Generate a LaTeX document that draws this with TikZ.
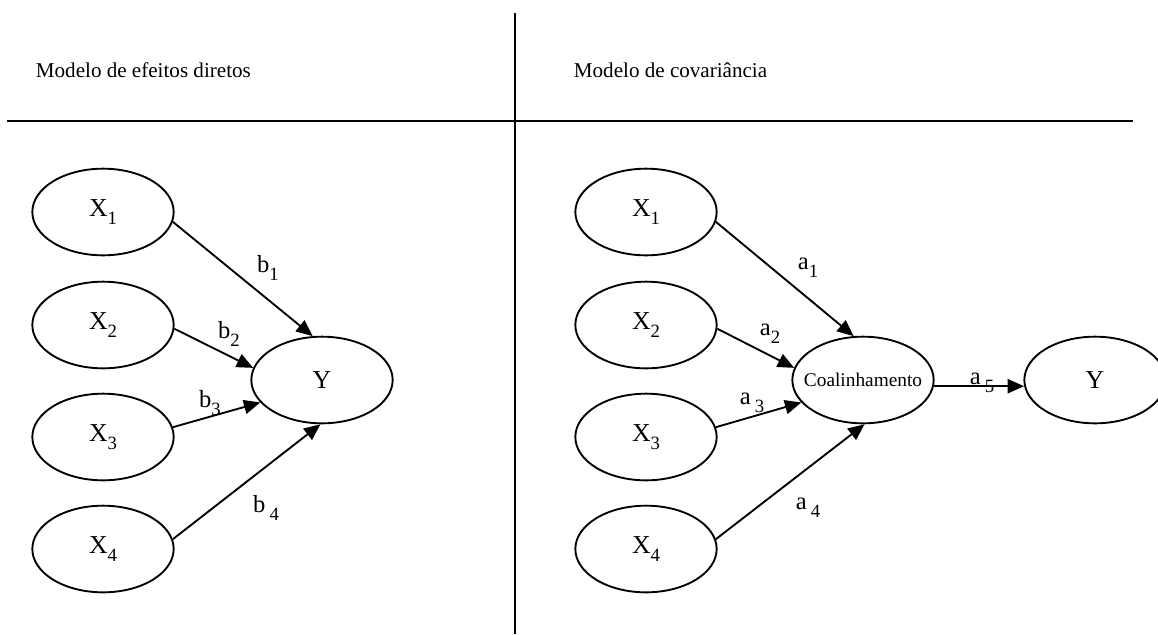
\documentclass[tikz,border=0pt]{standalone}
\usepackage{fontspec}
\setmainfont{Liberation Serif}
\usepackage{tikz}
\usetikzlibrary{shapes.geometric,arrows.meta}

\newcommand{\lowsub}[1]{\raisebox{-7pt}{\fontsize{16}{19}\selectfont #1}}

\begin{document}
\begin{tikzpicture}[x=0.03cm, y=-0.03cm, line width=1.6pt,
  var/.style={draw, ellipse, minimum width=4.24cm, minimum height=2.6cm,
    inner sep=0pt, font=\fontsize{22}{26}\selectfont},
  coef/.style={inner sep=0pt, font=\fontsize{21}{25}\selectfont},
  title/.style={anchor=west, inner sep=0pt, font=\fontsize{18}{22}\selectfont},
  arr/.style={-{Triangle[length=14pt,width=12pt]}}]
  \useasboundingbox (0,0) rectangle (1158,634);

  % frame
  \coordinate (top) at (515,13);
  \coordinate (bottom) at (515,634);
  \coordinate (left) at (7,121);
  \coordinate (right) at (1133,121);
  \draw (top) -- (bottom);
  \draw (left) -- (right);
  \node[title] (tleft) at (35,70) {Modelo de efeitos diretos};
  \node[title] (tright) at (573,70) {Modelo de covariância};

  % direct effects model
  \node[var] (lx1) at (103,212) {X\lowsub{1}};
  \node[var] (lx2) at (103,325) {X\lowsub{2}};
  \node[var] (lx3) at (103,437) {X\lowsub{3}};
  \node[var] (lx4) at (103,549) {X\lowsub{4}};
  \node[var] (ly) at (322,380) {Y};
  \draw[arr] (lx1.-8) -- (ly.102);
  \draw[arr] (lx2.-3) -- (ly.170);
  \draw[arr] (lx3.8) -- (ly.200);
  \draw[arr] (lx4.8) -- (ly.268);
  \node[coef] (b1) at (268,268) {b\lowsub{1}};
  \node[coef] (b2) at (229,334) {b\lowsub{2}};
  \node[coef] (b3) at (210,403) {b\lowsub{3}};
  \node[coef] (b4) at (266,508) {b\,\lowsub{4}};

  % covariance model
  \node[var] (rx1) at (646,212) {X\lowsub{1}};
  \node[var] (rx2) at (646,325) {X\lowsub{2}};
  \node[var] (rx3) at (646,437) {X\lowsub{3}};
  \node[var] (rx4) at (646,549) {X\lowsub{4}};
  \node[var, inner xsep=-0.3cm, font=\fontsize{16.5}{19}\selectfont] (co) at (863,380) {Coalinhamento};
  \node[var] (ry) at (1095,380) {Y};
  \draw[arr] (rx1.-8) -- (co.102);
  \draw[arr] (rx2.-3) -- (co.170);
  \draw[arr] (rx3.8) -- (co.200);
  \draw[arr] (rx4.8) -- (co.272);
  \draw[arr] (co.-5) -- (ry.185);
  \node[coef] (a1) at (808,268) {a\lowsub{1}};
  \node[coef] (a2) at (770,334) {a\lowsub{2}};
  \node[coef] (a3) at (752,403) {a\,\lowsub{3}};
  \node[coef] (a4) at (808,508) {a\,\lowsub{4}};
  \node[coef] (a5) at (982,383) {a\,\lowsub{5}};
\end{tikzpicture}
\end{document}
